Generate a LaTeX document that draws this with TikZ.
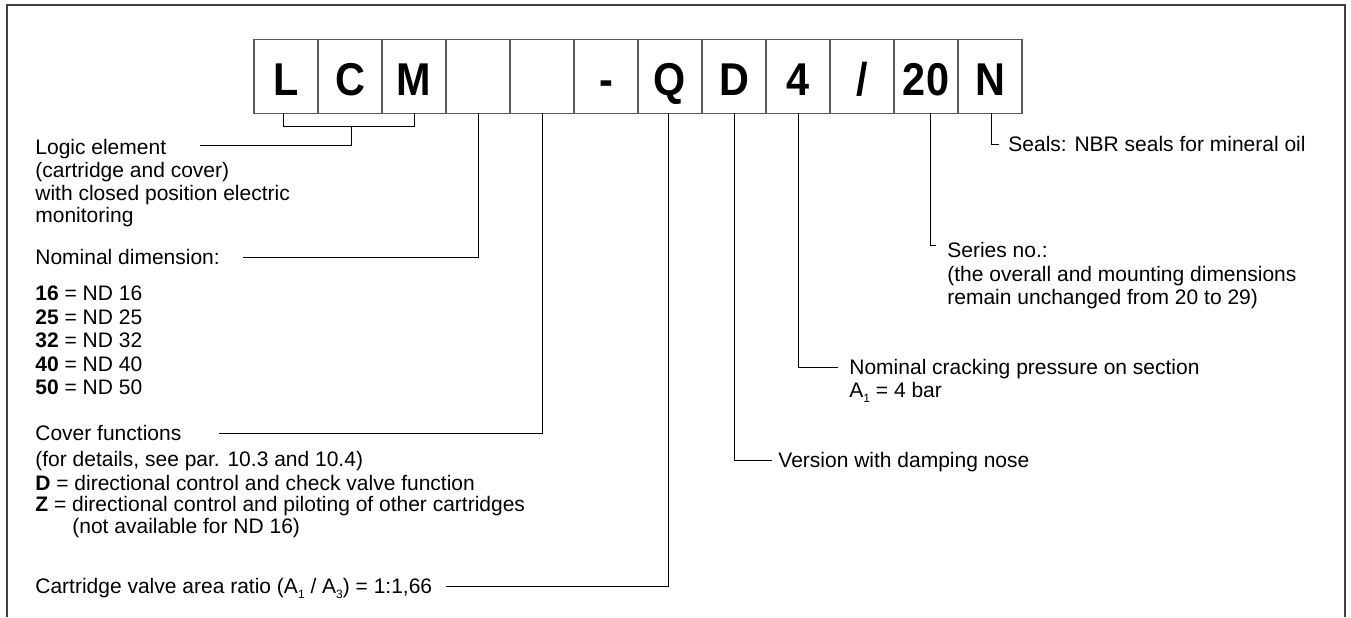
\documentclass[tikz,border=0pt]{standalone}
\usepackage{fontspec}
\setmainfont{Liberation Sans}
\newfontfamily\cellfont[FakeStretch=0.9]{Liberation Sans}
\usetikzlibrary{positioning}
\newcommand\sub[1]{\raisebox{-0.45ex}{\fontsize{6}{6}\selectfont #1}}
\tikzset{
  cell/.style={draw=black!65, line width=0.6pt, minimum width=32pt, minimum height=37pt,
    inner sep=0pt, outer sep=0pt, font=\cellfont\bfseries\fontsize{23}{24}\selectfont,
    text height=18.7pt, text depth=0pt},
  lbl/.style={anchor=west, inner sep=0pt, font=\fontsize{10.5}{12}\selectfont,
    text height=7.5pt, text depth=0pt},
  conn/.style={line width=0.5pt, black},
  frame/.style={line width=1pt, black!75}
}
\begin{document}
\begin{tikzpicture}[x=0.5pt,y=-0.5pt]
	\useasboundingbox (0,0) rectangle (1351,617);
	\draw[frame] (7,617) -- (7,5) -- (1345,5) -- (1345,617);

	%% type code boxes
	\node[cell] (b1) at (286,76.3) {L};
	\node[cell,right=0pt of b1] (b2) {C};
	\node[cell,right=0pt of b2] (b3) {M};
	\node[cell,right=0pt of b3] (b4) {};
	\node[cell,right=0pt of b4] (b5) {};
	\node[cell,right=0pt of b5] (b6) {-};
	\node[cell,right=0pt of b6] (b7) {Q};
	\node[cell,right=0pt of b7] (b8) {D};
	\node[cell,right=0pt of b8] (b9) {4};
	\node[cell,right=0pt of b9] (b10) {/};
	\node[cell,right=0pt of b10] (b11) {20};
	\node[cell,right=0pt of b11] (b12) {N};

	%% left column
	\node[lbl] (logic1) at (35,147) {Logic element};
	\node[lbl] (logic2) at (35,170) {(cartridge and cover)};
	\node[lbl] (logic3) at (35,192.5) {with closed position electric};
	\node[lbl] (logic4) at (35,215) {monitoring};

	\node[lbl] (nd) at (35,257) {Nominal dimension:};
	\node[lbl] (nd16) at (35,293) {\textbf{16} = ND 16};
	\node[lbl] (nd25) at (35,316.5) {\textbf{25} = ND 25};
	\node[lbl] (nd32) at (35,340) {\textbf{32} = ND 32};
	\node[lbl] (nd40) at (35,363.5) {\textbf{40} = ND 40};
	\node[lbl] (nd50) at (35,387) {\textbf{50} = ND 50};

	\node[lbl] (cov1) at (35,433) {Cover functions};
	\node[lbl] (cov2) at (35,459) {(for details, see par. 10.3 and 10.4)};
	\node[lbl] (covD) at (35,482.5) {\textbf{D} = directional control and check valve function};
	\node[lbl] (covZ) at (35,504) {\textbf{Z} = directional control and piloting of other cartridges};
	\node[lbl] (covZb) at (72,525.5) {(not available for ND 16)};

	\node[lbl] (ratio) at (35,586) {Cartridge valve area ratio (A\sub{1} / A\sub{3}) = 1:1,66};

	%% right column
	\node[lbl] (seals) at (1008,143.5) {Seals: NBR seals for mineral oil};
	\node[lbl] (ser1) at (947,250) {Series no.:};
	\node[lbl] (ser2) at (947,273.5) {(the overall and mounting dimensions};
	\node[lbl] (ser3) at (947,297) {remain unchanged from 20 to 29)};
	\node[lbl] (crack1) at (849,367) {Nominal cracking pressure on section};
	\node[lbl] (crack2) at (849,390) {A\sub{1} = 4 bar};
	\node[lbl] (damp) at (778,460) {Version with damping nose};

	%% connector ends
	\coordinate (brk) at (351,126.7);
	\coordinate (logicend) at (200,145);
	\coordinate (ndend) at (243,257);
	\coordinate (covend) at (219,433);
	\coordinate (ratioend) at (446,586);
	\coordinate (dampend) at (772,460);
	\coordinate (crackend) at (838,367);
	\coordinate (serend) at (936,245);
	\coordinate (sealend) at (999,144);

	\draw[conn] ([xshift=-1.4pt]b1.south) |- (brk) -| (b3.south);
	\draw[conn] (brk) |- (logicend);
	\draw[conn] (b4.south) |- (ndend);
	\draw[conn] (b5.south) |- (covend);
	\draw[conn] ([xshift=-1pt]b7.south) |- (ratioend);
	\draw[conn] (b8.south) |- (dampend);
	\draw[conn] (b9.south) |- (crackend);
	\draw[conn] ([xshift=2.3pt]b11.south) |- (serend);
	\draw[conn] ([xshift=0.8pt]b12.south) |- (sealend);
\end{tikzpicture}
\end{document}
